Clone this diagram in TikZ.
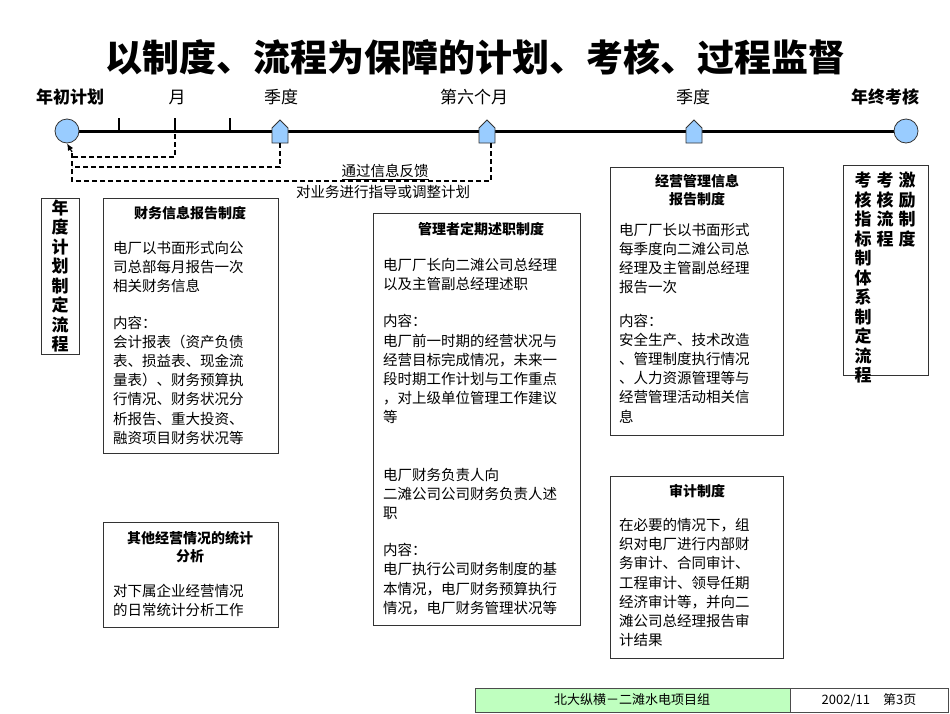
\documentclass[tikz,border=0pt]{standalone}
\usepackage{fontspec}
\setmainfont{Noto Sans CJK SC}
\usetikzlibrary{arrows.meta}
\definecolor{lblue}{RGB}{153,204,255}
\begin{document}
\begin{tikzpicture}[x=1pt,y=-1pt,
  box/.style={draw=black!80,line width=0.8pt,fill=white},
  body/.style={anchor=north west,align=left,inner sep=0pt,font=\fontsize{14.5}{19.2}\selectfont},
  ttl/.style={align=center,inner sep=0pt,font=\fontsize{14}{18}\selectfont\bfseries},
  lab/.style={font=\fontsize{17}{18}\selectfont,inner sep=0pt},
  vert/.style={align=center,inner sep=0pt,font=\fontsize{17}{19.5}\selectfont\bfseries},
  pent/.style={draw=black!80,fill=lblue,line width=0.8pt},
  fbline/.style={dashed,line width=1.2pt,dash pattern=on 5pt off 3pt}]
\useasboundingbox (0,0) rectangle (950,713);
\fill[white] (0,0) rectangle (950,713);
\node[font=\fontsize{37}{40}\selectfont\bfseries] (title) at (475,57) {以制度、流程为保障的计划、考核、过程监督};
% timeline
\draw[line width=3pt] (67,131) -- (906,131);
\foreach \x in {119,175,230} \draw[line width=2.5pt] (\x,118) -- (\x,133);
\foreach \x/\n in {280/q1,487/q2,694/q3}
  \draw[pent] (\x-8,143) -- (\x-8,128) -- (\x,120) -- (\x+8,128) -- (\x+8,143) -- cycle coordinate (\n) at (\x,143);
\node[circle,draw=black!80,line width=0.8pt,fill=lblue,minimum size=24pt,inner sep=0pt] (start) at (67,131) {};
\node[circle,draw=black!80,line width=0.8pt,fill=lblue,minimum size=24pt,inner sep=0pt] (end) at (906,131) {};
\node[lab,font=\fontsize{17}{18}\selectfont\bfseries] (l0) at (70,97) {年初计划};
\node[lab] (l1) at (177,97) {月};
\node[lab] (l2) at (281,97) {季度};
\node[lab] (l3) at (474,97) {第六个月};
\node[lab] (l4) at (693,97) {季度};
\node[lab,font=\fontsize{17}{18}\selectfont\bfseries] (l5) at (885,97) {年终考核};
% feedback
\draw[fbline] (175,134) -- (175,157) -- (72,157);
\draw[fbline] (q1) -- (280,167) -- (72,167);
\draw[fbline] (491,143) -- (491,181) -- (72,181) -- (72,150);
\draw[-{Latex[length=7pt,width=6pt]},line width=1.2pt] (72,152) -- (start.south);
\node[lab,font=\fontsize{14.5}{16}\selectfont] (fb1) at (385,172) {\underline{通过信息反馈}};
\node[lab,font=\fontsize{14.5}{16}\selectfont] (fb2) at (383,192) {对业务进行指导或调整计划};
% left vertical
\draw[box] (41,198) rectangle (79,354);
\node[vert] (v0) at (60,276) {年\\度\\计\\划\\制\\定\\流\\程};
% box A
\draw[box] (103,198) rectangle (278,453);
\node[ttl] (ta) at (190,213) {财务信息报告制度};
\node[body] (ba) at (113,241) {电厂以书面形式向公\\司总部每月报告一次\\相关财务信息\\[17pt]内容：\\会计报表（资产负债\\表、损益表、现金流\\量表）、财务预算执\\行情况、财务状况分\\析报告、重大投资、\\融资项目财务状况等};
% box B
\draw[box] (103,522) rectangle (278,627);
\node[ttl] (tb) at (190,547) {其他经营情况的统计\\分析};
\node[body] (bb) at (113,584) {对下属企业经营情况\\的日常统计分析工作};
% box C
\draw[box] (373,213) rectangle (580,625);
\node[ttl] (tc) at (481,229) {管理者定期述职制度};
\node[body] (bc) at (383,258) {电厂厂长向二滩公司总经理\\以及主管副总经理述职\\[18pt]内容：\\电厂前一时期的经营状况与\\经营目标完成情况，未来一\\段时期工作计划与工作重点\\，对上级单位管理工作建议\\等\\[38pt]电厂财务负责人向\\二滩公司公司财务负责人述\\职\\[18pt]内容：\\电厂执行公司财务制度的基\\本情况，电厂财务预算执行\\情况，电厂财务管理状况等};
% box D
\draw[box] (610,167) rectangle (783,435);
\node[ttl] (td) at (697,190) {经营管理信息\\报告制度};
\node[body] (bd) at (619,223) {电厂厂长以书面形式\\每季度向二滩公司总\\经理及主管副总经理\\报告一次\\[14pt]内容：\\安全生产、技术改造\\、管理制度执行情况\\、人力资源管理等与\\经营管理活动相关信\\息};
% box E
\draw[box] (610,476) rectangle (783,658);
\node[ttl] (te) at (697,491) {审计制度};
\node[body] (be) at (619,518) {在必要的情况下，组\\织对电厂进行内部财\\务审计、合同审计、\\工程审计、领导任期\\经济审计等，并向二\\滩公司总经理报告审\\计结果};
% box F
\draw[box] (843,165) rectangle (928,375);
\node[vert,anchor=north] (f1) at (907,172) {激\\励\\制\\度};
\node[vert,anchor=north] (f2) at (885,172) {考\\核\\流\\程};
\node[vert,anchor=north] (f3) at (863,172) {考\\核\\指\\标\\制\\体\\系\\制\\定\\流\\程};
% footer
\draw[fill=green!25!white,draw=black!70] (475,688) rectangle (790,712);
\draw[fill=white,draw=black!70] (790,688) rectangle (948,712);
\node[font=\fontsize{13}{15}\selectfont] (ft1) at (632,700) {北大纵横－二滩水电项目组};
\node[font=\fontsize{13}{15}\selectfont] (ft2) at (869,700) {2002/11\quad 第3页};
\end{tikzpicture}
\end{document}
